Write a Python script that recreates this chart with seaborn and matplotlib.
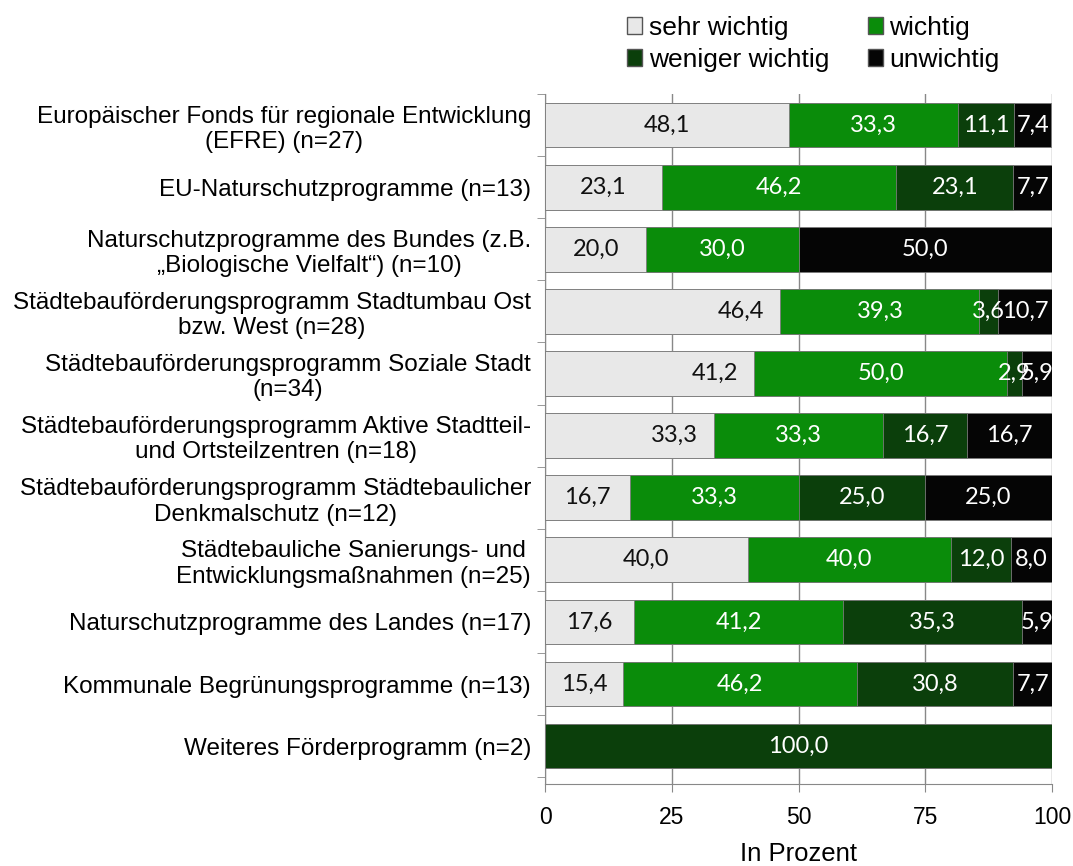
import numpy as np
import pandas as pd
import seaborn as sb
import matplotlib
matplotlib.use('agg')
import matplotlib.pyplot as plt
from matplotlib.patches import Patch

categories = [
    "Europäischer Fonds für regionale Entwicklung\n(EFRE) (n=27)",
    "EU-Naturschutzprogramme (n=13)",
    "Naturschutzprogramme des Bundes (z.B.\n„Biologische Vielfalt“) (n=10)",
    "Städtebauförderungsprogramm Stadtumbau Ost\nbzw. West (n=28)",
    "Städtebauförderungsprogramm Soziale Stadt\n(n=34)",
    "Städtebauförderungsprogramm Aktive Stadtteil-\nund Ortsteilzentren (n=18)",
    "Städtebauförderungsprogramm Städtebaulicher\nDenkmalschutz (n=12)",
    "Städtebauliche Sanierungs- und\nEntwicklungsmaßnahmen (n=25)",
    "Naturschutzprogramme des Landes (n=17)",
    "Kommunale Begrünungsprogramme (n=13)",
    "Weiteres Förderprogramm (n=2)",
]
sehr_wichtig = [48.1, 23.1, 20.0, 46.4, 41.2, 33.3, 16.7, 40.0, 17.6, 15.4, 0.0]
wichtig = [33.3, 46.2, 30.0, 39.3, 50.0, 33.3, 33.3, 40.0, 41.2, 46.2, 0.0]
weniger_wichtig = [11.1, 23.1, 0.0, 3.6, 2.9, 16.7, 25.0, 12.0, 35.3, 30.8, 100.0]
unwichtig = [7.4, 7.7, 50.0, 10.7, 5.9, 16.7, 25.0, 8.0, 5.9, 7.7, 0.0]

series_names = ["sehr wichtig", "wichtig", "weniger wichtig", "unwichtig"]
colors = ["#e8e8e8", "#0a8c0a", "#0b3f0b", "#050505"]
text_colors = ["#111111", "white", "white", "white"]
gray_inside_end = [3, 4, 5]  # rows where the light label sits at the right end of its bar

df = pd.DataFrame({"cat": categories, "sehr wichtig": sehr_wichtig, "wichtig": wichtig,
                   "weniger wichtig": weniger_wichtig, "unwichtig": unwichtig})
cum = df[series_names].cumsum(axis=1)

fig = plt.figure(figsize=(10.73, 8.66), dpi=100)
ax = fig.add_axes([545 / 1073, 1 - 784 / 866, (1052 - 545) / 1073, (784 - 94) / 866])

# draw cumulative bars from the back to the front so they look stacked
for i in reversed(range(4)):
    sb.barplot(x=cum[series_names[i]], y=df["cat"], orient='h', color=colors[i],
               width=0.72, edgecolor="#7a7a7a", linewidth=0.6, saturation=1, ax=ax, zorder=3)

label_font = ['Lato', 'DejaVu Sans']
for i, name in enumerate(series_names):
    start = cum[name] - df[name]
    for j, v in enumerate(df[name]):
        if v <= 0:
            continue
        txt = ("%.1f" % v).replace('.', ',')
        if i == 0 and j in gray_inside_end:
            ax.text(cum[name][j] - 3.2, j, txt, ha='right', va='center',
                    color=text_colors[i], fontsize=17, family=label_font, zorder=5)
        else:
            ax.text(start[j] + v / 2, j, txt, ha='center', va='center',
                    color=text_colors[i], fontsize=17, family=label_font, zorder=5)

ax.set_xlim(0, 100)
ax.set_ylim(10.61, -0.5)
ax.set_xticks([0, 25, 50, 75, 100])
ax.set_xticklabels(["0", "25", "50", "75", "100"], fontsize=16.5, family='Liberation Sans')
ax.tick_params(axis='x', length=6, color='#888888', pad=9.5)
ax.set_yticks(range(len(categories)))
ax.set_yticklabels(categories, fontsize=17.5, family='Liberation Sans', multialignment='center')
ax.tick_params(axis='y', length=0, pad=10)
ax.set_yticks(np.arange(-0.5, 11, 1), minor=True)
ax.tick_params(axis='y', which='minor', length=6, color='#888888')
ax.set_xlabel("In Prozent", fontsize=18.5, family='Liberation Sans', labelpad=10)
ax.set_ylabel("")
ax.grid(axis='x', color='#888888', linewidth=1, zorder=0)
ax.set_axisbelow(True)
for s in ['top', 'right']:
    ax.spines[s].set_visible(False)
ax.spines['left'].set_color('#888888')
ax.spines['bottom'].set_color('#888888')

order = [0, 2, 1, 3]
handles = [Patch(facecolor=colors[k], edgecolor='#555555', label=series_names[k]) for k in order]
fig.legend(handles=handles, ncol=2, loc='upper left', bbox_to_anchor=(627 / 1073, 1 - 16 / 866), frameon=False,
           prop={'family': 'Liberation Sans', 'size': 19}, handlelength=0.58, handleheight=0.58,
           handletextpad=0.25, columnspacing=1.45, labelspacing=0.3, borderpad=0, borderaxespad=0)

plt.savefig("out.png", dpi=100)
plt.close()
